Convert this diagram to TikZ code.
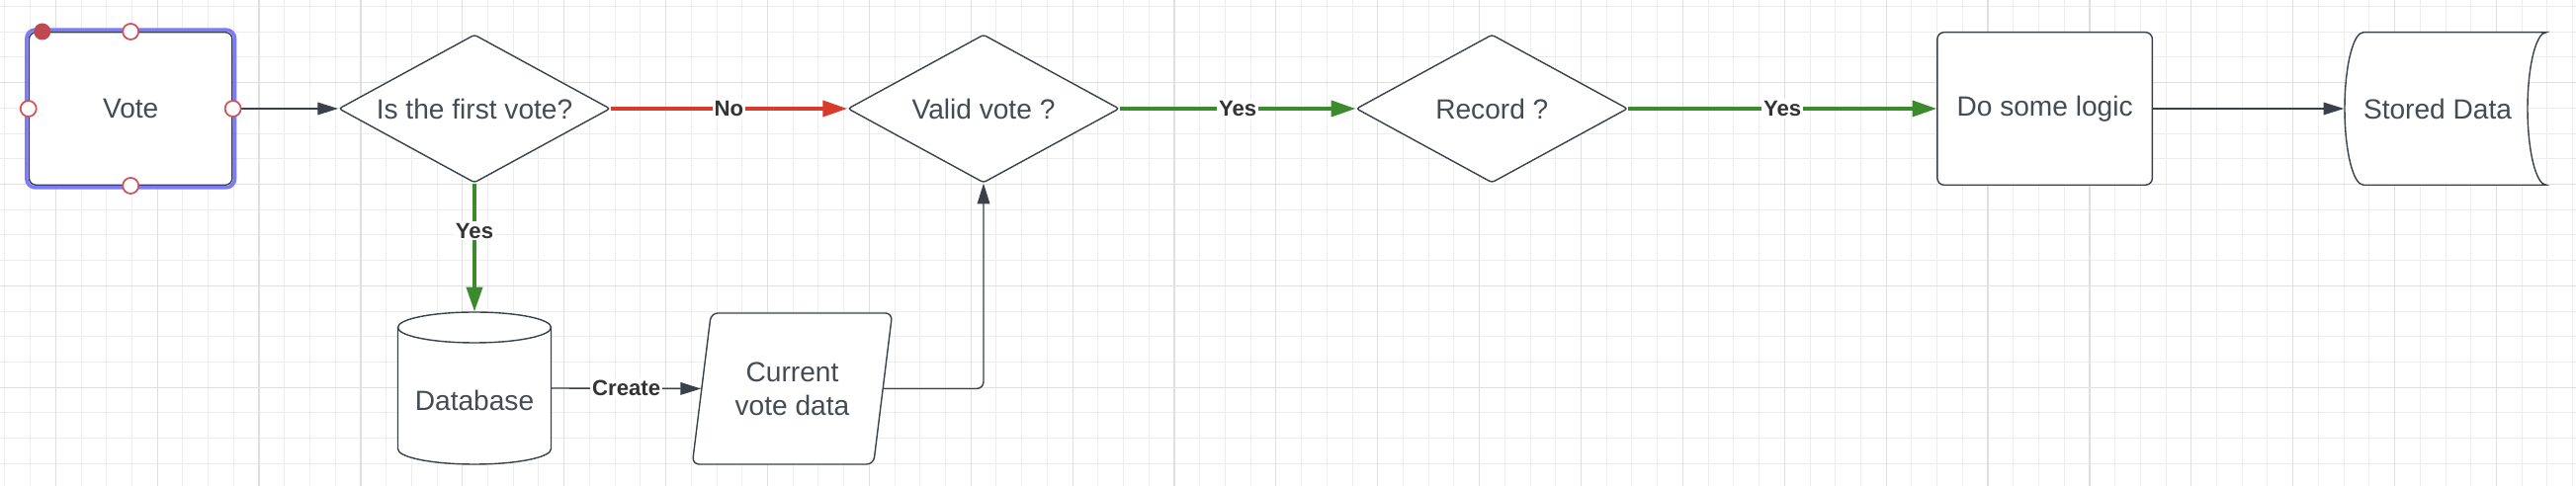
\documentclass[tikz,border=0pt]{standalone}
\usepackage{fontspec}
\setmainfont{Liberation Sans}
\usetikzlibrary{shapes.geometric,arrows.meta}
\definecolor{ink}{HTML}{3A414A}
\definecolor{txt}{HTML}{454B54}
\definecolor{yesgreen}{HTML}{3B8A2C}
\definecolor{nored}{HTML}{D83A2C}
\definecolor{selblue}{HTML}{7C7CFA}
\definecolor{handlered}{HTML}{D2525A}
\definecolor{gridminor}{HTML}{EDEDED}
\definecolor{gridmajor}{HTML}{DFDFDF}
\tikzset{
  shapeline/.style={draw=ink, line width=0.4pt},
  box/.style={shapeline, fill=white, rounded corners=2pt, text=txt,
    font=\fontsize{8}{9.6}\selectfont, inner sep=0pt,
    minimum height=1.546cm},
  plain/.style={text=txt, font=\fontsize{8}{9.6}\selectfont, inner sep=0pt},
  decision/.style={diamond, shapeline, fill=white, text=txt,
    font=\fontsize{8}{9.6}\selectfont, aspect=1.83, inner sep=0pt,
    minimum width=2.746cm, minimum height=1.5cm, rounded corners=0.8pt},
  thinarrow/.style={draw=ink, line width=0.4pt, -{Triangle[length=5.9pt,width=3.6pt]}},
  yesarrow/.style={draw=yesgreen, line width=0.9pt, -{Triangle[length=7pt,width=4.6pt]}},
  noarrow/.style={draw=nored, line width=0.9pt, -{Triangle[length=7pt,width=4.6pt]}},
  edgelabel/.style={fill=white, inner sep=0.6pt, text=black!80,
    font=\fontsize{6.3}{7.5}\selectfont\bfseries},
  handle/.style={draw=handlered, fill=white, line width=0.5pt},
  gridthin/.style={draw=gridminor, line width=0.28pt},
  gridthick/.style={draw=gridmajor, line width=0.34pt},
}
\begin{document}
\begin{tikzpicture}
\useasboundingbox (0,0) rectangle (26.06,-4.92);
\fill[white] (0,0) rectangle (26.06,-4.92);
% background grid
\foreach \k in {-2,...,99}
  \draw[gridthin] ({0.563+0.2572*\k},0) -- ({0.563+0.2572*\k},-4.92);
\foreach \k in {-3,...,15}
  \draw[gridthin] (0,{-0.836-0.2572*\k}) -- (26.06,{-0.836-0.2572*\k});
\foreach \k in {0,4,...,96}
  \draw[gridthick] ({0.563+0.2572*\k},0) -- ({0.563+0.2572*\k},-4.92);
\foreach \k in {0,4,...,12}
  \draw[gridthick] (0,{-0.836-0.2572*\k}) -- (26.06,{-0.836-0.2572*\k});

% top row
\node[box, minimum width=2.055cm] (vote) at (1.322,-1.10) {Vote};
\node[decision] (first) at (4.80,-1.10) {Is the first vote?};
\node[decision] (valid) at (9.95,-1.10) {Valid vote ?};
\node[decision] (record) at (15.093,-1.10) {Record ?};
\node[box, minimum width=2.176cm] (logic) at (20.686,-1.10) {Do some logic};
\filldraw[shapeline, fill=white] (23.91,-0.327) -- (25.76,-0.327)
  arc[start angle=90, end angle=270, x radius=0.19, y radius=0.773]
  -- (23.91,-1.873)
  arc[start angle=270, end angle=90, x radius=0.19, y radius=0.773] -- cycle;
\node[plain, minimum width=1.88cm, minimum height=1.546cm] (stored) at (24.66,-1.10) {Stored Data};

% bottom row
\filldraw[shapeline, fill=white] (4.025,-3.315) -- (4.025,-4.545)
  arc[start angle=180, end angle=360, x radius=0.775, y radius=0.155]
  -- (5.575,-3.315)
  arc[start angle=0, end angle=180, x radius=0.775, y radius=0.155] -- cycle;
\draw[shapeline] (4.025,-3.315) arc[start angle=180, end angle=360, x radius=0.775, y radius=0.155];
\node[plain, minimum width=1.55cm, minimum height=1.54cm, text height=12.6pt, text depth=0pt] (db) at (4.80,-3.93) {Database};
\node[trapezium, trapezium left angle=76, trapezium right angle=104, trapezium stretches=true,
  shapeline, fill=white, rounded corners=2pt, text=txt, font=\fontsize{8}{9.6}\selectfont,
  align=center, inner sep=0pt, minimum width=2.03cm, minimum height=1.53cm]
  (cvd) at (8.015,-3.935) {Current\\vote data};

% selection on vote
\draw[selblue, line width=1pt, rounded corners=2.5pt]
  ([shift={(-0.019,0.019)}]vote.north west) rectangle ([shift={(0.019,-0.019)}]vote.south east);

% connectors
\draw[thinarrow] (vote.east) -- (first.west);
\draw[noarrow] (first.east) -- node[edgelabel] {No} (valid.west);
\draw[yesarrow] (valid.east) -- node[edgelabel] {Yes} (record.west);
\draw[yesarrow] (record.east) -- node[edgelabel] {Yes} (logic.west);
\draw[thinarrow] (logic.east) -- (stored.west);
\draw[yesarrow] (first.south) -- node[edgelabel, pos=0.37] {Yes} (db.north);
\draw[thinarrow] (db.east) -- node[edgelabel] {Create} (cvd.west);
\draw[thinarrow, rounded corners=2pt] (cvd.east) -| (valid.south);

% handles
\foreach \a in {north,south,east,west}
  \draw[handle] (vote.\a) circle (0.08);
\fill[handlered!90!black] ([xshift=0.14cm]vote.north west) circle (0.085);
\end{tikzpicture}
\end{document}
